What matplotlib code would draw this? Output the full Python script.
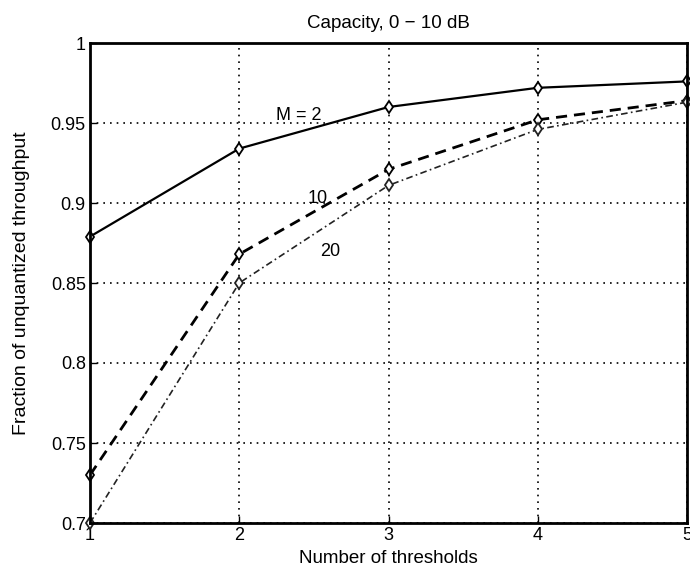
import matplotlib.pyplot as plt

# Data
thresholds = [1, 2, 3, 4, 5]
frac_m2 = [0.879, 0.934, 0.960, 0.972, 0.976]
frac_m10 = [0.730, 0.868, 0.921, 0.952, 0.964]
frac_m20 = [0.700, 0.850, 0.911, 0.946, 0.963]

y_ticks = [0.7, 0.75, 0.8, 0.85, 0.9, 0.95, 1]
y_tick_labels = ['0.7', '0.75', '0.8', '0.85', '0.9', '0.95', '1']

plt.rcParams['font.family'] = ['Liberation Sans Narrow', 'Liberation Sans', 'DejaVu Sans']

fig = plt.figure(figsize=(6.9, 5.7), dpi=100)
ax = fig.add_axes([90 / 690, 1 - 523 / 570, 597 / 690, 480 / 570])

ax.plot(thresholds, frac_m2, color='black', linestyle='-', linewidth=1.6,
        marker='d', markersize=6, markerfacecolor='white', markeredgewidth=1.3, clip_on=False)
ax.plot(thresholds, frac_m10, color='black', linestyle=(0, (4, 2.5)), linewidth=2.0,
        marker='d', markersize=6, markerfacecolor='white', markeredgewidth=1.3, clip_on=False)
ax.plot(thresholds, frac_m20, color='#222222', linestyle=(0, (4, 2, 1, 2)), linewidth=1.2,
        marker='d', markersize=6, markerfacecolor='white', markeredgewidth=1.3, clip_on=False)

# curve labels
ax.text(2.40, 0.955, 'M = 2', fontsize=13, ha='center', va='center')
ax.text(2.525, 0.903, '10', fontsize=13, ha='center', va='center')
ax.text(2.61, 0.870, '20', fontsize=13, ha='center', va='center')

ax.set_xlim(1, 5)
ax.set_ylim(0.7, 1)
ax.set_xticks(thresholds)
ax.set_yticks(y_ticks)
ax.set_yticklabels(y_tick_labels)
ax.tick_params(direction='in', labelsize=13, length=5, width=1, pad=3)

ax.grid(True, color='black', linestyle=(0, (1, 3)), linewidth=1.2)
for s in ax.spines.values():
    s.set_linewidth(2)

ax.set_title('Capacity, 0 \u2212 10 dB', fontsize=13.5, pad=11)
ax.set_xlabel('Number of thresholds', fontsize=13.5, labelpad=4)
ax.set_ylabel('Fraction of unquantized throughput', fontsize=14)
ax.yaxis.set_label_coords(-0.10, 0.5)

fig.savefig('out.png', dpi=100)
